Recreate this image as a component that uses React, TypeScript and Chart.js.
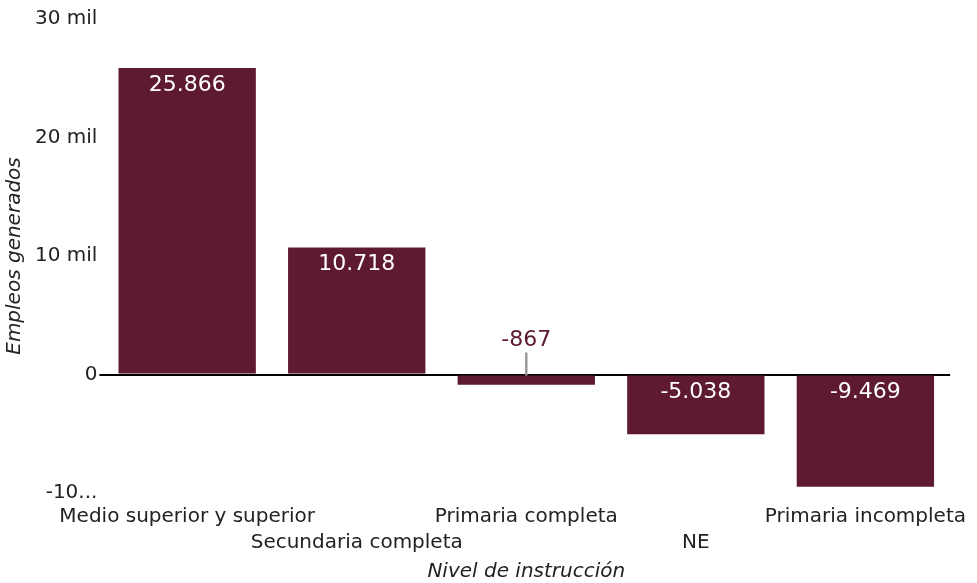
import React, { useEffect, useRef } from "react";
import { Chart, registerables } from "chart.js";

Chart.register(...registerables);

const categories = [
  "Medio superior y superior",
  "Secundaria completa",
  "Primaria completa",
  "NE",
  "Primaria incompleta",
];
const values = [25866, 10718, -867, -5038, -9469];
const yTicks = [-10000, 0, 10000, 20000, 30000];
const yTickLabels = ["-10...", "0", "10 mil", "20 mil", "30 mil"];

const BAR = "#5E1A2E";
const FONT = "'DejaVu Sans', sans-serif";

const fmt = (v: number) => {
  const s = Math.abs(v).toString().replace(/\B(?=(\d{3})+(?!\d))/g, ".");
  return (v < 0 ? "-" : "") + s;
};

const labelPlugin = {
  id: "barLabels",
  afterDraw(chart: any) {
    const ctx = chart.ctx;
    const meta = chart.getDatasetMeta(0);
    ctx.save();
    ctx.font = `22px ${FONT}`;
    ctx.textAlign = "center";
    ctx.textBaseline = "middle";
    meta.data.forEach((bar: any, i: number) => {
      const v = values[i];
      const top = Math.min(bar.y, bar.base);
      const h = Math.abs(bar.y - bar.base);
      if (h > 34) {
        ctx.fillStyle = "#ffffff";
        ctx.fillText(fmt(v), bar.x, top + 17);
      } else {
        ctx.strokeStyle = "#999999";
        ctx.lineWidth = 2.5;
        ctx.beginPath();
        ctx.moveTo(bar.x, top);
        ctx.lineTo(bar.x, top - 23);
        ctx.stroke();
        ctx.fillStyle = BAR;
        ctx.fillText(fmt(v), bar.x, top - 35);
      }
    });
    ctx.restore();
  },
};

export default function App() {
  const ref = useRef<HTMLCanvasElement>(null);
  useEffect(() => {
    if (!ref.current) return;
    const labels = categories.map((c, i) => (i % 2 === 1 ? ["", c] : [c]));
    const chart = new Chart(ref.current, {
      type: "bar",
      data: {
        labels,
        datasets: [
          {
            data: values,
            backgroundColor: BAR,
            borderWidth: 0,
            barPercentage: 0.9,
            categoryPercentage: 0.9,
          },
        ],
      },
      plugins: [labelPlugin],
      options: {
        animation: false,
        responsive: true,
        maintainAspectRatio: false,
        layout: { padding: { top: 19, right: 0, bottom: 0, left: 0 } },
        plugins: {
          legend: { display: false },
          tooltip: { enabled: false },
        },
        scales: {
          x: {
            grid: { display: false, drawTicks: false },
            border: { display: false },
            ticks: {
              autoSkip: false,
              maxRotation: 0,
              minRotation: 0,
              padding: 11,
              color: "#222",
              font: { family: FONT, size: 20, lineHeight: 1.3 },
            },
            title: {
              display: true,
              text: "Nivel de instrucción",
              color: "#222",
              padding: { top: -6, bottom: 0 },
              font: { family: FONT, size: 20, style: "italic", lineHeight: 1.1 },
            },
          },
          y: {
            min: -10000,
            max: 30000,
            z: 1,
            afterBuildTicks: (axis: any) => {
              axis.ticks = yTicks.map((v) => ({ value: v }));
            },
            grid: {
              color: (c: any) => (c.tick && c.tick.value === 0 ? "#000" : "rgba(0,0,0,0)"),
              lineWidth: 2,
              drawTicks: true,
              tickLength: 3,
            },
            border: { display: false },
            ticks: {
              padding: 2,
              color: "#222",
              font: { family: FONT, size: 20 },
              callback: (v: any) => {
                const idx = yTicks.indexOf(Number(v));
                return idx >= 0 ? yTickLabels[idx] : "";
              },
            },
            title: {
              display: true,
              text: "Empleos generados",
              color: "#222",
              padding: { top: 3, bottom: 6 },
              font: { family: FONT, size: 20, style: "italic" },
            },
          },
        },
      },
    });
    return () => chart.destroy();
  }, []);
  return (
    <div style={{ position: "fixed", left: 0, top: 0, width: 977, height: 583, background: "#fff" }}>
      <canvas ref={ref} />
    </div>
  );
}
